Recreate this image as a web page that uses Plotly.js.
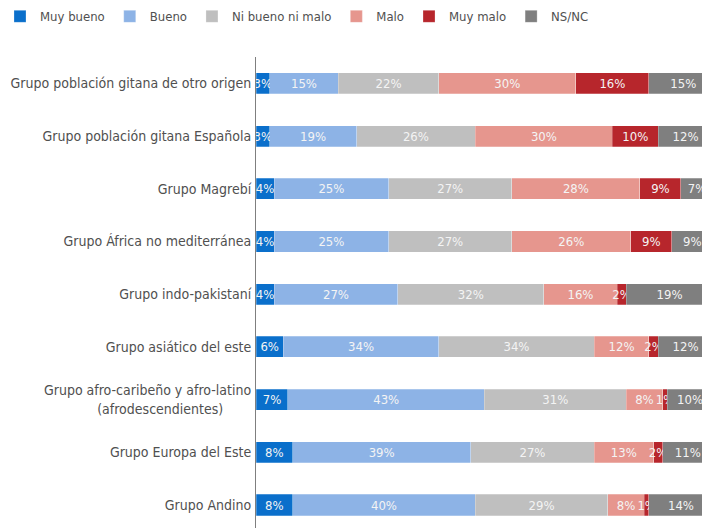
<!DOCTYPE html>
<html>
<head>
<meta charset="utf-8">
<script src="https://cdn.plot.ly/plotly-3.0.1.min.js"></script>
<style>html,body{margin:0;padding:0;background:#fff}#chart{width:702px;height:528px}</style>
</head>
<body>
<div id="chart"></div>
<script>
const categories = [
  "Grupo población gitana de otro origen",
  "Grupo población gitana Española",
  "Grupo Magrebí",
  "Grupo África no mediterránea",
  "Grupo indo-pakistaní",
  "Grupo asiático del este",
  "Grupo afro-caribeño y afro-latino<br>(afrodescendientes)&nbsp;&nbsp;&nbsp;&nbsp;&nbsp;&nbsp;&nbsp;",
  "Grupo Europa del Este",
  "Grupo Andino"
];
const seriesNames = ["Muy bueno", "Bueno", "Ni bueno ni malo", "Malo", "Muy malo", "NS/NC"];
const muyBueno = [3, 3, 4, 4, 4, 6, 7, 8, 8];
const bueno    = [15, 19, 25, 25, 27, 34, 43, 39, 40];
const niBueno  = [22, 26, 27, 27, 32, 34, 31, 27, 29];
const malo     = [30, 30, 28, 26, 16, 12, 8, 13, 8];
const muyMalo  = [16, 10, 9, 9, 2, 2, 1, 2, 1];
const nsnc     = [15, 12, 7, 9, 19, 12, 10, 11, 14];
const colors = ["#0a6fcb", "#8db3e6", "#bfbfbf", "#e6968e", "#b7262c", "#7f7f7f"];

const FONT = "'DejaVu Sans Condensed', 'Liberation Sans Narrow', sans-serif";
const allSeries = [muyBueno, bueno, niBueno, malo, muyMalo, nsnc];
const traces = allSeries.map((vals, i) => ({
  type: "bar",
  orientation: "h",
  name: seriesNames[i],
  y: categories,
  x: vals,
  marker: {color: colors[i], line: {color: "rgba(255,255,255,0.5)", width: 0.5}},
  text: vals.map(v => v + "%"),
  textposition: "inside",
  insidetextanchor: "middle",
  textangle: 0,
  textfont: {family: FONT, size: 13, color: "#f4f4f4"},
  constraintext: "none",
  hoverinfo: "x+name"
}));

const layout = {
  width: 702, height: 528,
  barmode: "stack",
  bargap: 0.6,
  margin: {l: 256, r: 0, t: 57, b: 0, autoexpand: false},
  paper_bgcolor: "#fff", plot_bgcolor: "#fff",
  font: {family: FONT, size: 14, color: "#505050"},
  uniformtext: {mode: "show", minsize: 13},
  showlegend: true,
  legend: {orientation: "h", x: -0.574, xref: "paper", xanchor: "left", y: 1.118, yref: "paper", yanchor: "top",
           font: {family: FONT, size: 13, color: "#505050"}, itemwidth: 30, traceorder: "normal"},
  xaxis: {range: [0, 97.6], showgrid: false, zeroline: false, showticklabels: false, showline: false, fixedrange: true},
  yaxis: {type: "category", range: [8.436, -0.5], showgrid: false, zeroline: false,
          showline: true, linecolor: "#7f7f7f", linewidth: 1, ticks: "", ticklabelstandoff: 1,
          tickfont: {family: FONT, size: 14, color: "#505050"}}
};
Plotly.newPlot("chart", traces, layout, {displayModeBar: false, staticPlot: true});
</script>
</body>
</html>
